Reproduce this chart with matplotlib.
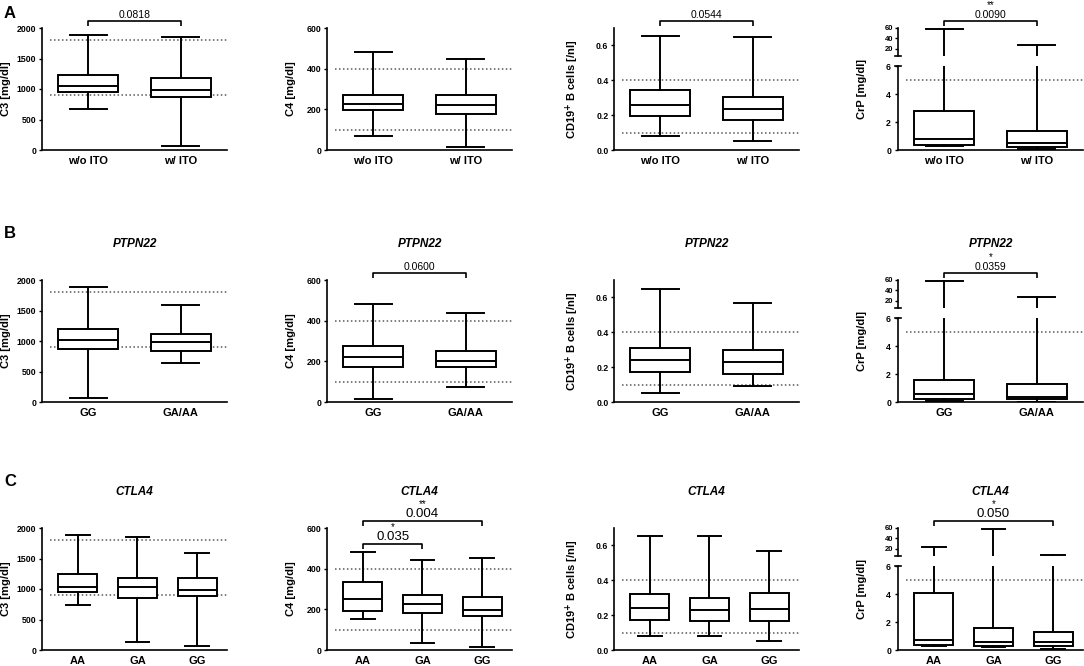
import matplotlib
matplotlib.use('Agg')
import matplotlib.pyplot as plt
import matplotlib.transforms as mtransforms

plt.rcParams['font.family'] = ['Liberation Sans', 'DejaVu Sans']

W, H = 1084, 666

# groups per row
ito_groups = ['w/o ITO', 'w/ ITO']
ptpn22_groups = ['GG', 'GA/AA']
ctla4_groups = ['AA', 'GA', 'GG']

# box values: whislo, q1, median, q3, whishi
c3_ito = [[667, 945, 1045, 1230, 1885], [70, 875, 990, 1180, 1855]]
c4_ito = [[70, 195, 225, 270, 480], [15, 175, 220, 270, 450]]
cd19_ito = [[0.083, 0.194, 0.257, 0.344, 0.654], [0.052, 0.172, 0.234, 0.304, 0.65]]
crp_ito = [[0.31, 0.36, 0.78, 2.8, 58.7], [0.07, 0.24, 0.47, 1.35, 27.3]]

c3_ptpn22 = [[70, 869, 1022, 1191, 1880], [645, 836, 984, 1115, 1590]]
c4_ptpn22 = [[15, 172, 223, 273, 483], [73, 172, 200, 250, 440]]
cd19_ptpn22 = [[0.05, 0.17, 0.24, 0.31, 0.65], [0.09, 0.16, 0.23, 0.30, 0.57]]
crp_ptpn22 = [[0.05, 0.25, 0.6, 1.6, 58], [0.02, 0.25, 0.35, 1.3, 27]]

c3_ctla4 = [[738, 945, 1038, 1240, 1880], [126, 847, 1033, 1175, 1852], [66, 880, 984, 1186, 1585]]
c4_ctla4 = [[151, 192, 251, 336, 481], [36, 180, 224, 271, 441], [15, 165, 199, 260, 451]]
cd19_ctla4 = [[0.078, 0.173, 0.243, 0.323, 0.652], [0.078, 0.167, 0.230, 0.300, 0.652],
              [0.05, 0.167, 0.237, 0.327, 0.570]]
crp_ctla4 = [[0.3, 0.38, 0.71, 4.09, 23.2], [0.25, 0.28, 0.59, 1.58, 58.7], [0.09, 0.28, 0.59, 1.32, 8]]

# reference ranges (dotted lines)
c3_ref = [900, 1800]
c4_ref = [100, 400]
cd19_ref = [0.1, 0.4]
crp_ref = [5]

ylabels = ['C3 [mg/dl]', 'C4 [mg/dl]', r'CD19$^{\mathbf{+}}$ B cells [/nl]', 'CrP [mg/dl]']
c3_ticks = [0, 500, 1000, 1500, 2000]
c4_ticks = [0, 200, 400, 600]
cd19_ticks = [0.0, 0.2, 0.4, 0.6]
crp_ticks_low = [0, 2, 4, 6]
crp_ticks_high = [20, 40, 60]

# significance: (column, group1, group2, p-value, stars, level)
sig_ito = [(0, 0, 1, '0.0818', '', 0), (2, 0, 1, '0.0544', '', 0), (3, 0, 1, '0.0090', '**', 0)]
sig_ptpn22 = [(1, 0, 1, '0.0600', '', 0), (3, 0, 1, '0.0359', '*', 0)]
sig_ctla4 = [(1, 0, 2, '0.004', '**', 0), (1, 0, 1, '0.035', '*', 1), (3, 0, 2, '0.050', '*', 0)]

rows = [
    ('A', None, ito_groups, [c3_ito, c4_ito, cd19_ito, crp_ito], sig_ito),
    ('B', 'PTPN22', ptpn22_groups, [c3_ptpn22, c4_ptpn22, cd19_ptpn22, crp_ptpn22], sig_ptpn22),
    ('C', 'CTLA4', ctla4_groups, [c3_ctla4, c4_ctla4, cd19_ctla4, crp_ctla4], sig_ctla4),
]

col_left = [42, 327, 614, 898]
row_top = [28, 280, 528]
pw, ph = 185, 122

fig = plt.figure(figsize=(W / 100, H / 100), dpi=100)


def rect(left, top, w, h):
    return [left / W, 1 - (top + h) / H, w / W, h / H]


def style(ax, bottom=True):
    ax.spines['top'].set_visible(False)
    ax.spines['right'].set_visible(False)
    ax.spines['left'].set_linewidth(1.2)
    ax.spines['bottom'].set_linewidth(1.2)
    if not bottom:
        ax.spines['bottom'].set_visible(False)
    ax.tick_params(axis='y', length=2.5, width=1, pad=1.5, labelsize=6.3)
    ax.tick_params(axis='x', length=0, pad=4, labelsize=8)
    for lab in ax.get_yticklabels():
        lab.set_fontweight('bold')


def draw_boxes(ax, data):
    stats = [dict(whislo=d[0], q1=d[1], med=d[2], q3=d[3], whishi=d[4], fliers=[]) for d in data]
    lw = 1.4
    ax.bxp(stats, positions=list(range(1, len(data) + 1)), widths=0.65, capwidths=0.4,
           showfliers=False, patch_artist=True, manage_ticks=False,
           boxprops=dict(facecolor='white', edgecolor='black', linewidth=lw),
           medianprops=dict(color='black', linewidth=lw),
           whiskerprops=dict(color='black', linewidth=lw),
           capprops=dict(color='black', linewidth=lw))


def bracket(ax, x1, x2, top_px, y_px, text, stars, fs):
    tr = mtransforms.blended_transform_factory(ax.transData, fig.transFigure)
    yb = 1 - (top_px + y_px) / H
    yl = 1 - (top_px + y_px + 5) / H
    ax.plot([x1, x1, x2, x2], [yl, yb, yb, yl], transform=tr, color='black', lw=1.2,
            clip_on=False, solid_capstyle='butt')
    off = 7 if fs > 8 else 6
    ax.text((x1 + x2) / 2, 1 - (top_px + y_px - off) / H, text, transform=tr,
            ha='center', va='center', fontsize=fs)
    if stars:
        ax.text((x1 + x2) / 2, 1 - (top_px + y_px - off - 10) / H, stars, transform=tr,
                ha='center', va='center', fontsize=7)


refs = [c3_ref, c4_ref, cd19_ref, crp_ref]
ylims = [(0, 2000), (0, 600), (0, 0.7), (0, 6)]
yticks = [c3_ticks, c4_ticks, cd19_ticks, crp_ticks_low]

for r, (letter, title, groups, panels, sigs) in enumerate(rows):
    top = row_top[r]
    n = len(groups)
    xlim = (0.5, 2.5) if n == 2 else (0.4, 3.5)
    fig.text(4 / W, 1 - (top - 15 if r == 0 else top - 47) / H, letter,
             fontsize=12, fontweight='bold', ha='left', va='center')
    axes_main = []
    for c in range(4):
        left = col_left[c]
        if c < 3:
            ax = fig.add_axes(rect(left, top, pw, ph))
            draw_boxes(ax, panels[c])
            ax.set_ylim(*ylims[c])
            ax.set_yticks(yticks[c])
            if c == 2:
                ax.set_yticklabels(['%.1f' % v for v in yticks[c]])
            label_y = 0.5
        else:
            ax = fig.add_axes(rect(left, top + 38, pw, ph - 38))
            draw_boxes(ax, panels[c])
            ax.set_ylim(0, 6)
            ax.set_yticks(crp_ticks_low)
            ax_top = fig.add_axes(rect(left, top, pw, 28))
            draw_boxes(ax_top, panels[c])
            ax_top.set_ylim(6, 60)
            ax_top.set_yticks(crp_ticks_high)
            ax_top.set_xlim(*xlim)
            ax_top.set_xticks([])
            style(ax_top, bottom=False)
            ax_top.tick_params(axis='y', labelsize=5.5, pad=1)
            for lab in ax_top.get_yticklabels():
                lab.set_fontweight('bold')
            # axis break marks
            ax_top.plot([-0.018, 0.018], [0, 0], transform=ax_top.transAxes, color='black',
                        lw=1.2, clip_on=False)
            ax.plot([-0.018, 0.018], [1, 1], transform=ax.transAxes, color='black',
                    lw=1.2, clip_on=False)
            ax.tick_params(axis='y', pad=2.5)
            label_y = (ph / 2) / (ph - 38)
        for v in refs[c]:
            ax.axhline(v, xmin=0.045, xmax=1, ls=(0, (1, 1.6)), color='0.35', lw=1.1, zorder=0)
        ax.set_xlim(*xlim)
        ax.set_xticks(range(1, n + 1))
        ax.set_xticklabels(groups, fontweight='bold')
        style(ax)
        if c == 3:
            ax.tick_params(axis='y', pad=2.5)
        ax.set_ylabel(ylabels[c], fontsize=8, fontweight='bold')
        ax.yaxis.set_label_coords(-0.165 if c != 2 else -0.18, label_y)
        if title:
            fig.text((left + pw / 2) / W, 1 - (top - 36) / H, title, fontsize=8.5,
                     fontweight='bold', fontstyle='italic', ha='center', va='center')
        axes_main.append(ax)

    fs = 9.5 if r == 2 else 7.5
    for (c, g1, g2, ptxt, stars, level) in sigs:
        y_px = -7 if level == 0 else 16
        bracket(axes_main[c], g1 + 1, g2 + 1, top, y_px, ptxt, stars, fs)

fig.savefig('out.png', dpi=100)
